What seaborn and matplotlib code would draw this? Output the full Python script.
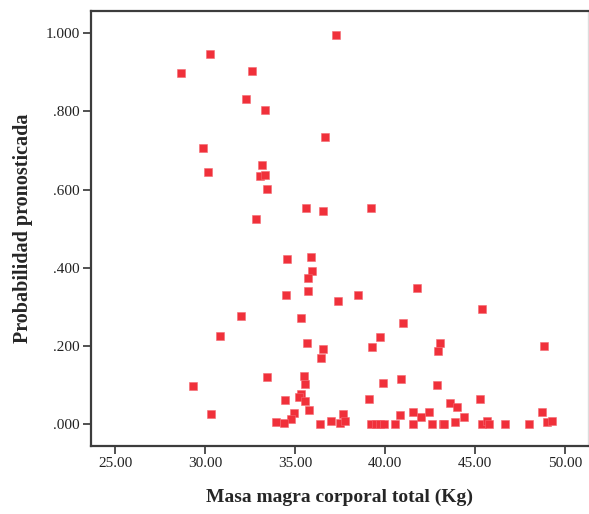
import numpy as np
import pandas as pd
import matplotlib
matplotlib.use('Agg')
import matplotlib.pyplot as plt
from matplotlib.ticker import FuncFormatter
import seaborn as sns

# ── Datos ─────────────────────────────────────────────────────────────────────
masa_magra = [30.29, 28.65, 32.59, 32.29, 33.31, 29.89, 30.18, 33.16, 33.03, 33.35,
              33.46, 35.61, 32.85, 37.29, 36.68, 36.57, 39.21, 34.57, 35.88, 35.92,
              35.73, 35.70, 34.48, 31.97, 35.34, 41.75, 38.49, 37.40, 45.39, 40.99,
              30.83, 35.64, 36.55, 36.45, 33.46, 35.47, 35.55, 29.34, 35.33, 35.24,
              34.42, 35.55, 35.77, 30.31, 34.94, 34.76, 33.94, 34.38, 36.38, 36.99,
              39.73, 39.29, 43.05, 42.95, 40.88, 39.86, 42.90, 39.10, 43.58, 44.02,
              37.64, 41.55, 42.45, 40.81, 41.99, 37.49, 37.77, 39.20, 39.47, 39.71,
              39.95, 40.53, 41.53, 42.62, 43.20, 43.28, 43.86, 48.80, 45.25, 44.38,
              48.73, 45.38, 45.67, 45.78, 46.67, 48.00, 49.00, 49.26]
prob_pron = [0.947, 0.897, 0.904, 0.831, 0.803, 0.707, 0.646, 0.664, 0.636, 0.638,
             0.602, 0.554, 0.525, 0.996, 0.734, 0.546, 0.553, 0.423, 0.429, 0.393,
             0.373, 0.342, 0.330, 0.278, 0.273, 0.349, 0.331, 0.315, 0.294, 0.258,
             0.225, 0.209, 0.194, 0.170, 0.120, 0.125, 0.104, 0.097, 0.079, 0.070,
             0.063, 0.060, 0.037, 0.026, 0.028, 0.015, 0.005, 0.004, 0.001, 0.009,
             0.223, 0.199, 0.207, 0.187, 0.115, 0.105, 0.101, 0.065, 0.054, 0.045,
             0.026, 0.033, 0.032, 0.023, 0.019, 0.004, 0.009, 0.001, 0.001, 0.002,
             0.001, 0.000, 0.001, 0.000, 0.000, 0.000, 0.006, 0.201, 0.065, 0.019,
             0.031, 0.001, 0.008, 0.001, 0.001, 0.000, 0.005, 0.008]

x_ticks = [25, 30, 35, 40, 45, 50]
y_ticks = [0.0, 0.2, 0.4, 0.6, 0.8, 1.0]

df = pd.DataFrame({'masa': masa_magra, 'prob': prob_pron})

sns.set_style('white')
plt.rcParams['font.family'] = ['Liberation Serif', 'DejaVu Serif']

fig = plt.figure(figsize=(5.89, 5.14), dpi=100)
ax = fig.add_axes([0.154, 0.132, 0.844, 0.847])

sns.scatterplot(data=df, x='masa', y='prob', ax=ax, marker='s', s=30,
                color='#F0303A', edgecolor='#F46A72', linewidth=0.4, zorder=3)

ax.set_xlim(23.65, 51.26)
ax.set_ylim(-0.0555, 1.057)
ax.set_xticks(x_ticks)
ax.set_yticks(y_ticks)
ax.xaxis.set_major_formatter(FuncFormatter(lambda v, p: f'{v:.2f}'))
ax.yaxis.set_major_formatter(FuncFormatter(lambda v, p: f'{v:.3f}'.lstrip('0')))
ax.tick_params(axis='both', direction='out', length=6, width=1.2,
               color='#333333', labelsize=11, labelcolor='#222222', pad=2,
               bottom=True, left=True)

for side in ['left', 'bottom', 'top']:
    ax.spines[side].set_color('#3c3c3c')
    ax.spines[side].set_linewidth(1.6)
ax.spines['right'].set_color('#dddddd')
ax.spines['right'].set_linewidth(1.0)

ax.set_xlabel('Masa magra corporal total (Kg)', fontsize=14, fontweight='bold',
              labelpad=13)
ax.set_ylabel('Probabilidad pronosticada', fontsize=14.5, fontweight='bold',
              labelpad=9)

fig.savefig('out.png', dpi=100)
plt.close()
